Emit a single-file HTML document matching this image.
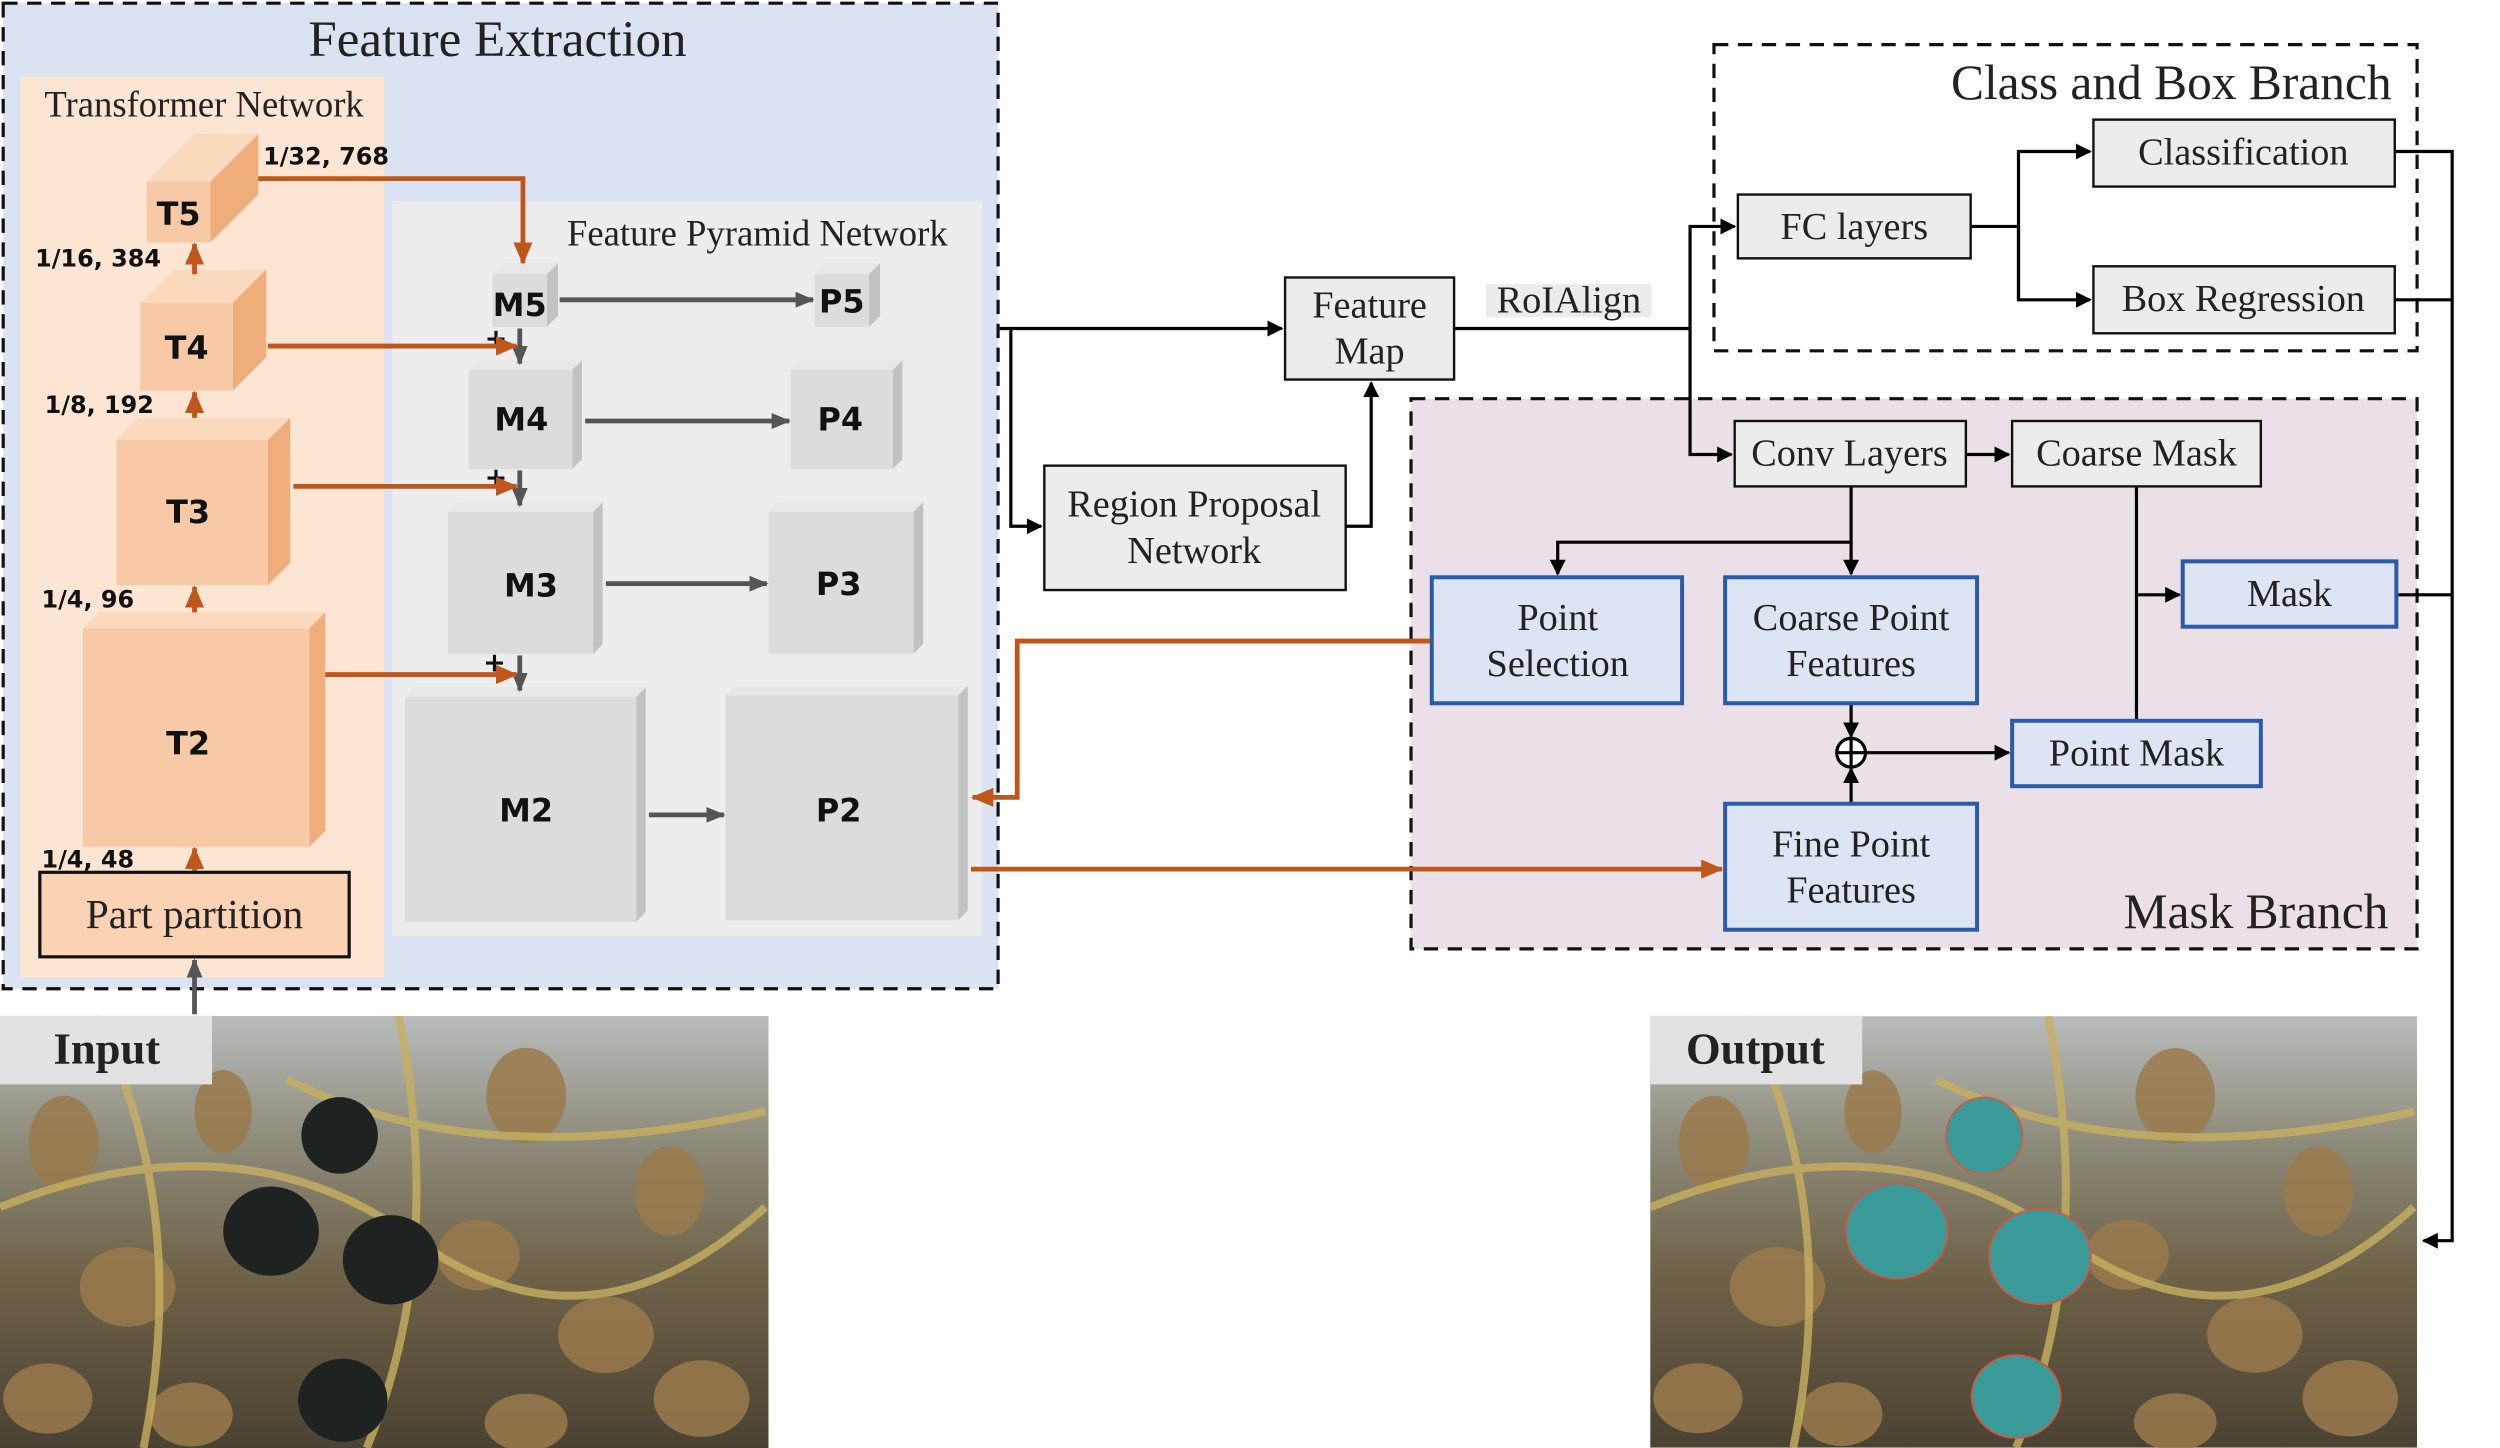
<!DOCTYPE html>
<html><head><meta charset="utf-8"><style>
html,body{margin:0;padding:0;background:#fff;}
svg{display:block;}
.s{font-family:"Liberation Serif",serif;fill:#222;}
.b{font-family:"DejaVu Sans","Liberation Sans",sans-serif;font-weight:bold;fill:#111;}
</style></head><body>
<svg width="2500" height="1448" viewBox="0 0 1568 908" preserveAspectRatio="none" xmlns="http://www.w3.org/2000/svg">
<defs>
<marker id="ak" markerWidth="10" markerHeight="10" refX="9" refY="5" orient="auto" markerUnits="userSpaceOnUse"><path d="M0,0 L10,5 L0,10 z" fill="#000"/></marker>
<marker id="ao" markerWidth="14" markerHeight="12" refX="13" refY="6" orient="auto" markerUnits="userSpaceOnUse"><path d="M0,0 L14,6 L0,12 z" fill="#c0561a"/></marker>
<marker id="ag" markerWidth="12" markerHeight="10" refX="11" refY="5" orient="auto" markerUnits="userSpaceOnUse"><path d="M0,0 L12,5 L0,10 z" fill="#555"/></marker>
<linearGradient id="img" x1="0" y1="0" x2="0" y2="1"><stop offset="0" stop-color="#b8bcbc"/><stop offset="0.3" stop-color="#8c8a78"/><stop offset="0.6" stop-color="#6e6248"/><stop offset="1" stop-color="#4a4232"/></linearGradient>
<g id="leaves">
<g fill="#9a7a4c" opacity="0.85">
<ellipse cx="40" cy="80" rx="22" ry="30"/><ellipse cx="140" cy="60" rx="18" ry="26"/><ellipse cx="330" cy="50" rx="25" ry="30"/><ellipse cx="420" cy="110" rx="22" ry="28"/>
<ellipse cx="80" cy="170" rx="30" ry="25"/><ellipse cx="300" cy="150" rx="26" ry="22"/><ellipse cx="380" cy="200" rx="30" ry="24"/><ellipse cx="30" cy="240" rx="28" ry="22"/><ellipse cx="120" cy="250" rx="26" ry="20"/><ellipse cx="440" cy="240" rx="30" ry="24"/><ellipse cx="330" cy="255" rx="26" ry="18"/>
</g>
<g stroke="#c8b060" stroke-width="5" fill="none" opacity="0.8">
<path d="M0,120 Q150,60 260,140 T480,120"/><path d="M60,0 Q120,120 90,271"/><path d="M250,0 Q280,150 230,271"/><path d="M180,40 Q300,100 480,60"/>
</g></g>
</defs>
<!-- Feature extraction -->
<rect x="2" y="2" width="624" height="618" fill="#dbe2f2" stroke="#111" stroke-width="2" stroke-dasharray="9,6"/>
<text x="312" y="35" class="s" font-size="32" text-anchor="middle">Feature Extraction</text>
<rect x="13" y="48" width="228" height="565" fill="#fce5d3"/>
<text x="128" y="73" class="s" font-size="23" text-anchor="middle" fill="#111">Transformer Network</text>
<rect x="246" y="126" width="370" height="461" fill="#ededed"/>
<text x="475" y="154" class="s" font-size="23" text-anchor="middle" fill="#111">Feature Pyramid Network</text>
<!-- branch boxes (background) -->
<rect x="1075" y="28" width="441" height="192" fill="none" stroke="#111" stroke-width="2" stroke-dasharray="9,6"/>
<text x="1500" y="62" class="s" font-size="31" text-anchor="end">Class and Box Branch</text>
<rect x="885" y="250" width="631" height="345" fill="#ebe0e7" stroke="#111" stroke-width="2" stroke-dasharray="9,6"/>
<text x="1498" y="582" class="s" font-size="31" text-anchor="end">Mask Branch</text>
<!-- T cubes -->
<g>
<path d="M92,114 L122,84 L162,84 L132,114z" fill="#fbd9bd"/><path d="M132,114 L162,84 L162,122 L132,152z" fill="#f0ad7c"/><rect x="92" y="114" width="40" height="38" fill="#f8c9a6"/>
<path d="M88,190 L109,169 L167,169 L146,190z" fill="#fbd9bd"/><path d="M146,190 L167,169 L167,224 L146,245z" fill="#f0ad7c"/><rect x="88" y="190" width="58" height="55" fill="#f8c9a6"/>
<path d="M73,276 L87,262 L182,262 L168,276z" fill="#fbd9bd"/><path d="M168,276 L182,262 L182,353 L168,367z" fill="#f0ad7c"/><rect x="73" y="276" width="95" height="91" fill="#f8c9a6"/>
<path d="M52,394 L62,384 L204,384 L194,394z" fill="#fbd9bd"/><path d="M194,394 L204,384 L204,521 L194,531z" fill="#f0ad7c"/><rect x="52" y="394" width="142" height="137" fill="#f8c9a6"/>
</g>
<text x="112" y="141" class="b" font-size="20" text-anchor="middle">T5</text>
<text x="117" y="225" class="b" font-size="20" text-anchor="middle">T4</text>
<text x="118" y="328" class="b" font-size="20" text-anchor="middle">T3</text>
<text x="118" y="473" class="b" font-size="20" text-anchor="middle">T2</text>
<g font-size="15">
<text x="165" y="103" class="b">1/32, 768</text>
<text x="22" y="167" class="b">1/16, 384</text>
<text x="28" y="259" class="b">1/8, 192</text>
<text x="26" y="381" class="b">1/4, 96</text>
<text x="26" y="544" class="b">1/4, 48</text>
</g>
<!-- gray cubes -->
<g>
<path d="M309,172 L316,165 L350,165 L343,172z" fill="#e8e8e8"/><path d="M343,172 L350,165 L350,198 L343,205z" fill="#c2c2c2"/><rect x="309" y="172" width="34" height="33" fill="#dcdcdc"/>
<path d="M511,172 L518,165 L552,165 L545,172z" fill="#e8e8e8"/><path d="M545,172 L552,165 L552,198 L545,205z" fill="#c2c2c2"/><rect x="511" y="172" width="34" height="33" fill="#dcdcdc"/>
<path d="M294,232 L300,226 L365,226 L359,232z" fill="#e8e8e8"/><path d="M359,232 L365,226 L365,288 L359,294z" fill="#c2c2c2"/><rect x="294" y="232" width="65" height="62" fill="#dcdcdc"/>
<path d="M496,232 L502,226 L566,226 L560,232z" fill="#e8e8e8"/><path d="M560,232 L566,226 L566,288 L560,294z" fill="#c2c2c2"/><rect x="496" y="232" width="64" height="62" fill="#dcdcdc"/>
<path d="M281,321 L287,315 L378,315 L372,321z" fill="#e8e8e8"/><path d="M372,321 L378,315 L378,404 L372,410z" fill="#c2c2c2"/><rect x="281" y="321" width="91" height="89" fill="#dcdcdc"/>
<path d="M482,321 L488,315 L579,315 L573,321z" fill="#e8e8e8"/><path d="M573,321 L579,315 L579,404 L573,410z" fill="#c2c2c2"/><rect x="482" y="321" width="91" height="89" fill="#dcdcdc"/>
<path d="M254,437 L260,431 L405,431 L399,437z" fill="#e8e8e8"/><path d="M399,437 L405,431 L405,572 L399,578z" fill="#c2c2c2"/><rect x="254" y="437" width="145" height="141" fill="#dcdcdc"/>
<path d="M455,436 L461,430 L607,430 L601,436z" fill="#e8e8e8"/><path d="M601,436 L607,430 L607,571 L601,577z" fill="#c2c2c2"/><rect x="455" y="436" width="146" height="141" fill="#dcdcdc"/>
</g>
<g font-size="20">
<text x="326" y="198" class="b" text-anchor="middle">M5</text>
<text x="528" y="196" class="b" text-anchor="middle">P5</text>
<text x="327" y="270" class="b" text-anchor="middle">M4</text>
<text x="527" y="270" class="b" text-anchor="middle">P4</text>
<text x="333" y="374" class="b" text-anchor="middle">M3</text>
<text x="526" y="373" class="b" text-anchor="middle">P3</text>
<text x="330" y="515" class="b" text-anchor="middle">M2</text>
<text x="526" y="515" class="b" text-anchor="middle">P2</text>
</g>
<!-- gray arrows FPN -->
<g stroke="#555" stroke-width="3" fill="none">
<line x1="351" y1="188" x2="510" y2="188" marker-end="url(#ag)"/>
<line x1="367" y1="264" x2="495" y2="264" marker-end="url(#ag)"/>
<line x1="380" y1="366" x2="481" y2="366" marker-end="url(#ag)"/>
<line x1="407" y1="511" x2="454" y2="511" marker-end="url(#ag)"/>
<line x1="326" y1="206" x2="326" y2="228" marker-end="url(#ag)"/>
<line x1="326" y1="295" x2="326" y2="317" marker-end="url(#ag)"/>
<line x1="326" y1="411" x2="326" y2="433" marker-end="url(#ag)"/>
<line x1="122" y1="636" x2="122" y2="602" marker-end="url(#ag)"/>
</g>
<g class="b" font-size="17"><text x="304" y="218">+</text><text x="304" y="305">+</text><text x="303" y="421">+</text></g>
<!-- orange arrows -->
<g stroke="#c0561a" stroke-width="3" fill="none">
<polyline points="162,112 328,112 328,165" marker-end="url(#ao)"/>
<line x1="168" y1="217" x2="324" y2="217" marker-end="url(#ao)"/>
<line x1="184" y1="305" x2="324" y2="305" marker-end="url(#ao)"/>
<line x1="204" y1="423" x2="324" y2="423" marker-end="url(#ao)"/>
<line x1="122" y1="172" x2="122" y2="153" marker-end="url(#ao)"/>
<line x1="122" y1="262" x2="122" y2="246" marker-end="url(#ao)"/>
<line x1="122" y1="384" x2="122" y2="368" marker-end="url(#ao)"/>
<line x1="122" y1="546" x2="122" y2="532" marker-end="url(#ao)"/>
<polyline points="898,402 638,402 638,500 610,500" marker-end="url(#ao)"/>
<line x1="609" y1="545" x2="1080" y2="545" marker-end="url(#ao)"/>
</g>
<rect x="25" y="547" width="194" height="53" fill="#fbd3b4" stroke="#111" stroke-width="2"/>
<text x="122" y="582" class="s" font-size="26" text-anchor="middle">Part partition</text>
<!-- middle -->
<rect x="806" y="174" width="106" height="64" fill="#ececec" stroke="#111" stroke-width="1.5"/>
<text x="859" y="199" class="s" font-size="24" text-anchor="middle">Feature</text>
<text x="859" y="228" class="s" font-size="24" text-anchor="middle">Map</text>
<rect x="655" y="292" width="189" height="78" fill="#ececec" stroke="#111" stroke-width="1.5"/>
<text x="749" y="324" class="s" font-size="24" text-anchor="middle">Region Proposal</text>
<text x="749" y="353" class="s" font-size="24" text-anchor="middle">Network</text>
<rect x="932" y="178" width="104" height="21" fill="#ececec"/>
<text x="984" y="196" class="s" font-size="24" text-anchor="middle">RoIAlign</text>
<g stroke="#000" stroke-width="2" fill="none">
<line x1="627" y1="206" x2="804" y2="206" marker-end="url(#ak)"/>
<polyline points="634,206 634,330 653,330" marker-end="url(#ak)"/>
<polyline points="844,330 860,330 860,240" marker-end="url(#ak)"/>
<line x1="912" y1="206" x2="1060" y2="206"/>
<polyline points="1060,206 1060,142 1088,142" marker-end="url(#ak)"/>
<polyline points="1060,206 1060,285 1086,285" marker-end="url(#ak)"/>
<polyline points="1236,142 1266,142"/>
<polyline points="1266,188 1266,95 1311,95" marker-end="url(#ak)"/>
<polyline points="1266,142 1266,188 1311,188" marker-end="url(#ak)"/>
<line x1="1233" y1="285" x2="1260" y2="285" marker-end="url(#ak)"/>
<polyline points="1502,95 1538,95 1538,778 1520,778" marker-end="url(#ak)"/>
<line x1="1502" y1="188" x2="1538" y2="188"/>
<line x1="1503" y1="373" x2="1538" y2="373"/>
<polyline points="1161,305 1161,340 977,340 977,360" marker-end="url(#ak)"/>
<line x1="1161" y1="340" x2="1161" y2="360" marker-end="url(#ak)"/>
<line x1="1161" y1="441" x2="1161" y2="462" marker-end="url(#ak)"/>
<line x1="1161" y1="504" x2="1161" y2="482" marker-end="url(#ak)"/>
<line x1="1170" y1="472" x2="1260" y2="472" marker-end="url(#ak)"/>
<line x1="1340" y1="305" x2="1340" y2="452"/>
<line x1="1340" y1="373" x2="1367" y2="373" marker-end="url(#ak)"/>
</g>
<!-- class & box -->
<rect x="1090" y="122" width="146" height="40" fill="#ececec" stroke="#111" stroke-width="1.5"/>
<text x="1163" y="150" class="s" font-size="24" text-anchor="middle">FC layers</text>
<rect x="1313" y="75" width="189" height="42" fill="#ececec" stroke="#111" stroke-width="1.5"/>
<text x="1407" y="103" class="s" font-size="24" text-anchor="middle">Classification</text>
<rect x="1313" y="167" width="189" height="42" fill="#ececec" stroke="#111" stroke-width="1.5"/>
<text x="1407" y="195" class="s" font-size="24" text-anchor="middle">Box Regression</text>
<!-- mask branch -->
<rect x="1088" y="264" width="145" height="41" fill="#ececec" stroke="#111" stroke-width="1.5"/>
<text x="1160" y="292" class="s" font-size="24" text-anchor="middle">Conv Layers</text>
<rect x="1262" y="264" width="156" height="41" fill="#ececec" stroke="#111" stroke-width="1.5"/>
<text x="1340" y="292" class="s" font-size="24" text-anchor="middle">Coarse Mask</text>
<g fill="#dde5f4" stroke="#2a5aa8" stroke-width="2.5">
<rect x="898" y="362" width="157" height="79"/>
<rect x="1082" y="362" width="158" height="79"/>
<rect x="1369" y="352" width="134" height="41"/>
<rect x="1262" y="452" width="156" height="41"/>
<rect x="1082" y="504" width="158" height="79"/>
</g>
<text x="977" y="395" class="s" font-size="24" text-anchor="middle">Point</text>
<text x="977" y="424" class="s" font-size="24" text-anchor="middle">Selection</text>
<text x="1161" y="395" class="s" font-size="24" text-anchor="middle">Coarse Point</text>
<text x="1161" y="424" class="s" font-size="24" text-anchor="middle">Features</text>
<text x="1436" y="380" class="s" font-size="24" text-anchor="middle">Mask</text>
<text x="1340" y="480" class="s" font-size="24" text-anchor="middle">Point Mask</text>
<text x="1161" y="537" class="s" font-size="24" text-anchor="middle">Fine Point</text>
<text x="1161" y="566" class="s" font-size="24" text-anchor="middle">Features</text>
<circle cx="1161" cy="472" r="9" fill="#fff" stroke="#000" stroke-width="2"/>
<line x1="1152" y1="472" x2="1170" y2="472" stroke="#000" stroke-width="2"/><line x1="1161" y1="463" x2="1161" y2="481" stroke="#000" stroke-width="2"/>
<!-- images -->
<svg x="0" y="637" width="482" height="271" viewBox="0 0 482 271">
<rect width="482" height="271" fill="url(#img)"/><use href="#leaves"/>
<g fill="#1e2220"><ellipse cx="213" cy="75" rx="24" ry="24"/><ellipse cx="170" cy="135" rx="30" ry="28"/><ellipse cx="245" cy="153" rx="30" ry="28"/><ellipse cx="215" cy="241" rx="28" ry="26"/></g>
</svg>
<rect x="0" y="637" width="133" height="43" fill="#e2e2e2"/>
<text x="67" y="667" class="s" font-size="28" font-weight="bold" fill="#111" text-anchor="middle">Input</text>
<svg x="1035" y="637" width="481" height="271" viewBox="0 0 482 271">
<rect width="482" height="271" fill="url(#img)"/><use href="#leaves"/>
<g fill="#3a9a98" stroke="#e05040" stroke-width="1"><ellipse cx="155" cy="135" rx="32" ry="30"/><ellipse cx="210" cy="75" rx="24" ry="24"/><ellipse cx="245" cy="151" rx="32" ry="30"/><ellipse cx="230" cy="239" rx="28" ry="26"/></g>
</svg>
<rect x="1035" y="637" width="133" height="43" fill="#e2e2e2"/>
<text x="1101" y="667" class="s" font-size="28" font-weight="bold" fill="#111" text-anchor="middle">Output</text>
</svg>
</body></html>
